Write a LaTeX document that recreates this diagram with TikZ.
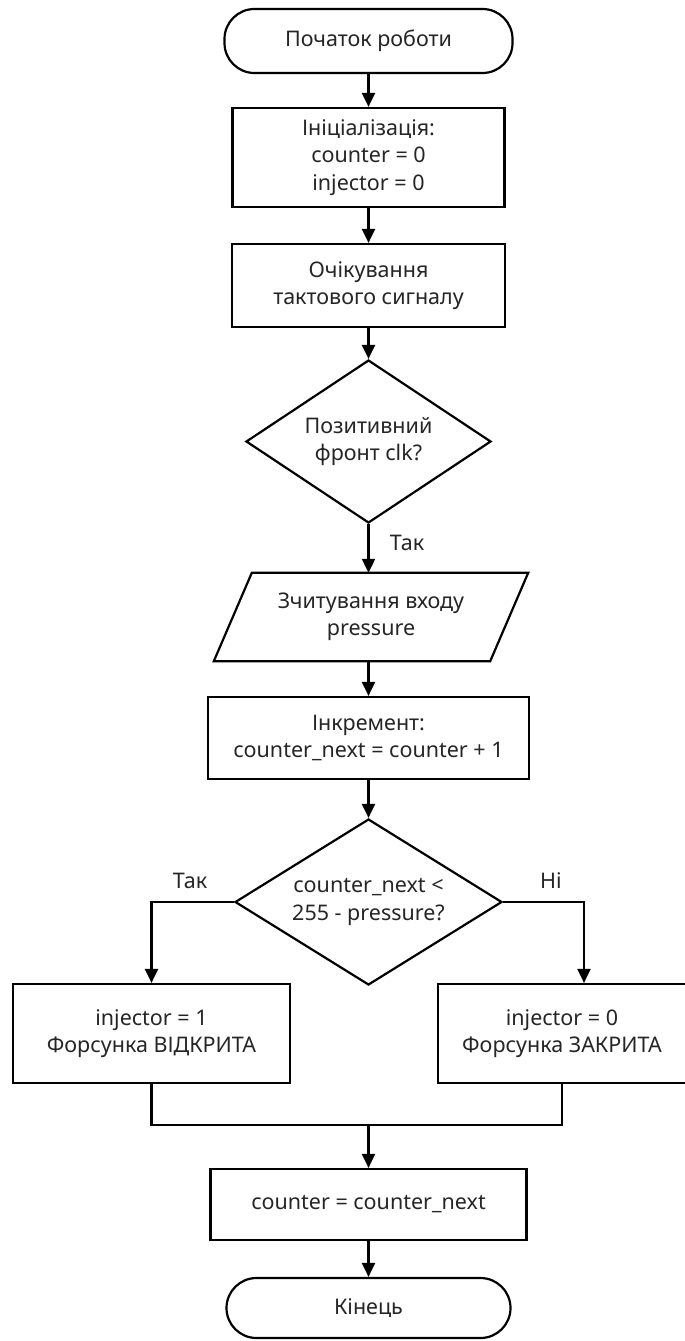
\documentclass[tikz,border=0pt]{standalone}
\usepackage{fontspec}
\setmainfont{Noto Sans}
\usetikzlibrary{shapes.geometric,arrows.meta}
\begin{document}
\begin{tikzpicture}[x=1pt,y=-1pt,
  every node/.style={font=\fontsize{21.5}{27.5}\selectfont, align=center, inner sep=0pt, text=black!85},
  base/.style={draw, line width=2.2pt},
  term/.style={base, rectangle, rounded corners=30pt},
  proc/.style={base, rectangle},
  dec/.style={base, diamond, aspect=1.5},
  arr/.style={line width=2.2pt, -{Triangle[length=14pt,width=13pt]}},
  ln/.style={line width=2.2pt},
  lbl/.style={font=\fontsize{21.5}{27.5}\selectfont}]
\useasboundingbox (0,0) rectangle (685,1341);
\fill[white] (0,0) rectangle (685,1341);

\node[term, minimum width=288pt, minimum height=64pt] (start) at (368.5,41) {Початок роботи};
\node[proc, minimum width=272pt, minimum height=99pt] (init) at (368.5,157.5) {Ініціалізація:\\counter = 0\\injector = 0};
\node[proc, minimum width=273pt, minimum height=83pt] (wait) at (368.5,285.5) {Очікування\\тактового сигналу};
\node[dec, minimum width=245pt, minimum height=163pt] (d1) at (368.5,441.5) {Позитивний\\фронт clk?};
\node[minimum width=276pt, minimum height=88pt] (read) at (371,617) {Зчитування входу\\pressure};
\draw[ln] ([xshift=19pt]read.north west) -- ([xshift=19pt]read.north east)
  -- ([xshift=-19pt]read.south east) -- ([xshift=-19pt]read.south west) -- cycle;
\node[proc, minimum width=321pt, minimum height=82pt] (inc) at (368.5,738) {Інкремент:\\counter\_next = counter + 1};
\node[dec, minimum width=267pt, minimum height=166pt, aspect=1.6] (d2) at (368.5,902) {counter\_next <\\255 - pressure?};
\node[proc, minimum width=277pt, minimum height=99pt] (lbox) at (151.5,1033.5) {injector = 1\\Форсунка ВІДКРИТА};
\node[proc, minimum width=248pt, minimum height=99pt] (rbox) at (562,1033.5) {injector = 0\\Форсунка ЗАКРИТА};
\node[proc, minimum width=316pt, minimum height=71pt] (fin) at (368.5,1204.5) {counter = counter\_next};
\node[term, minimum width=284pt, minimum height=60pt] (end) at (368.5,1308) {Кінець};

\coordinate (rin) at ([xshift=22pt]rbox.north);
\coordinate (m) at (368.5,1125);

\draw[arr] (start) -- (init);
\draw[arr] (init) -- (wait);
\draw[arr] (wait) -- (d1);
\draw[arr] (d1.south) -- (d1.south |- read.north);
\draw[arr] (read.south -| inc.north) -- (inc.north);
\draw[arr] (inc) -- (d2);
\draw[arr] (d2.west) -| (lbox.north);
\draw[arr] (d2.east) -| (rin);
\draw[ln] (lbox.south) |- (m) -| (rbox.south);
\draw[arr] (m) -- (fin.north);
\draw[arr] (fin) -- (end);

\node[lbl] (t1) at (407,543) {Так};
\node[lbl] (t2) at (190,881) {Так};
\node[lbl] (t3) at (551,881) {Ні};
\end{tikzpicture}
\end{document}
